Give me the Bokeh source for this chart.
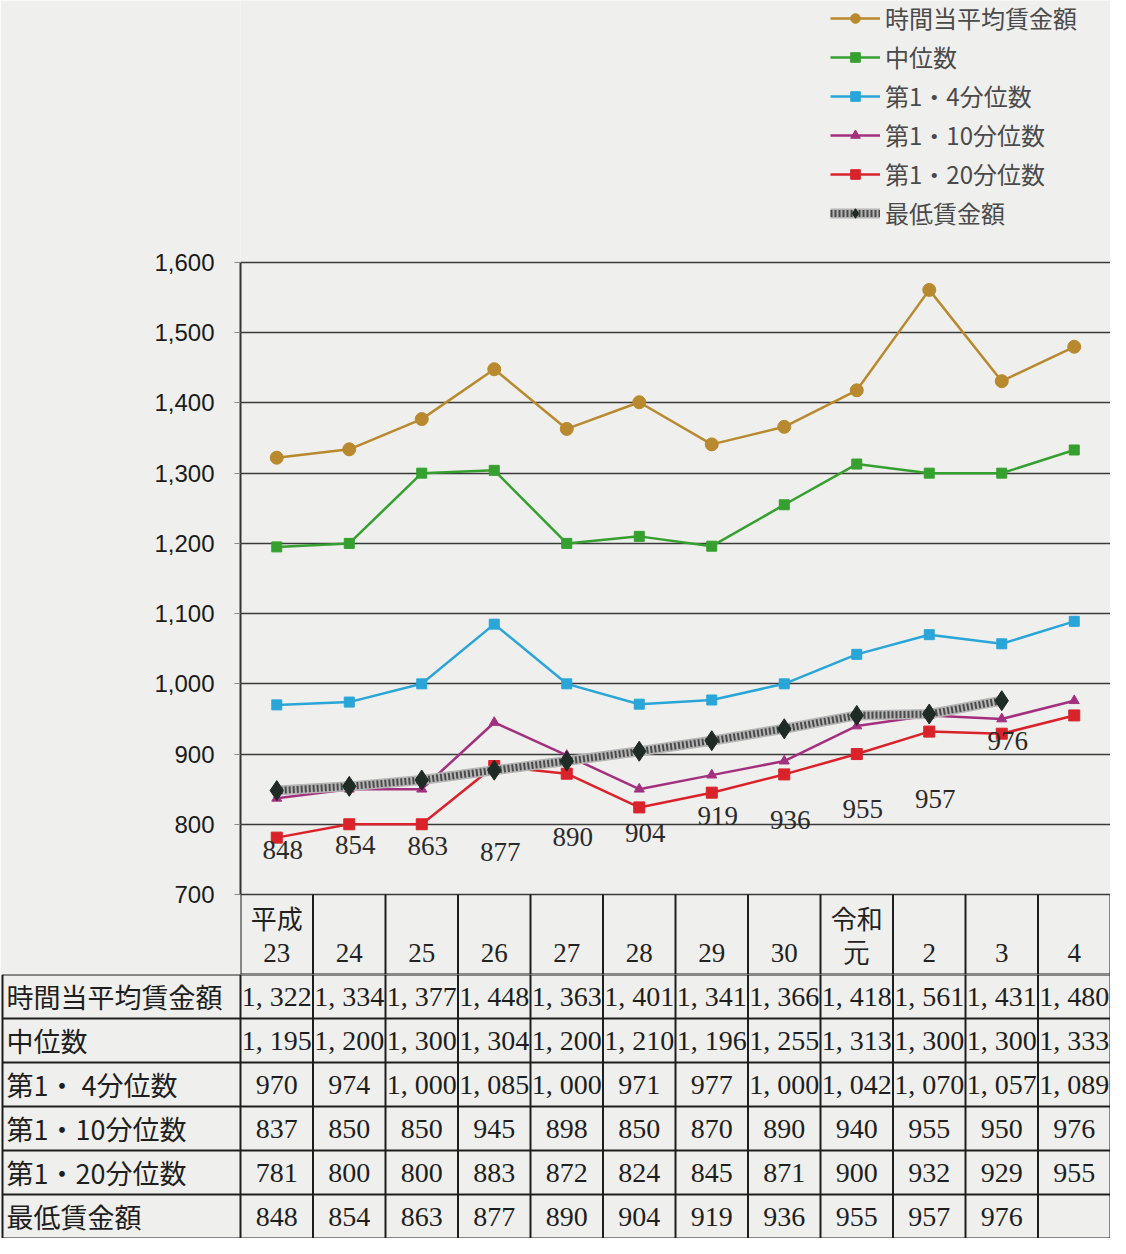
from bokeh.plotting import figure
from bokeh.models import Range1d, Legend, LegendItem, ColumnDataSource, NumeralTickFormatter
from bokeh.layouts import column
from bokeh.core.properties import value
from bokeh.embed import file_html
from bokeh.resources import INLINE

# ---------------- data ----------------
year_top = ["平成", "", "", "", "", "", "", "", "令和", "", "", ""]
year_bottom = ["23", "24", "25", "26", "27", "28", "29", "30", "元", "2", "3", "4"]

names = ["時間当平均賃金額", "中位数", "第1・4分位数", "第1・10分位数", "第1・20分位数", "最低賃金額"]
table_names = ["時間当平均賃金額", "中位数", "第1・ 4分位数", "第1・10分位数", "第1・20分位数", "最低賃金額"]

avg_wage = [1322, 1334, 1377, 1448, 1363, 1401, 1341, 1366, 1418, 1561, 1431, 1480]
median = [1195, 1200, 1300, 1304, 1200, 1210, 1196, 1255, 1313, 1300, 1300, 1333]
q1_4 = [970, 974, 1000, 1085, 1000, 971, 977, 1000, 1042, 1070, 1057, 1089]
q1_10 = [837, 850, 850, 945, 898, 850, 870, 890, 940, 955, 950, 976]
q1_20 = [781, 800, 800, 883, 872, 824, 845, 871, 900, 932, 929, 955]
min_wage = [848, 854, 863, 877, 890, 904, 919, 936, 955, 957, 976]

y_ticks = [700, 800, 900, 1000, 1100, 1200, 1300, 1400, 1500, 1600]

# ---------------- styles ----------------
BG = "#efefed"
LINE = "#1e1e1e"
colors = ["#b8892e", "#35a02f", "#2aa5d8", "#a3307e", "#d9222a"]
markers = ["circle", "square", "square", "triangle", "square"]
msizes = [13, 10, 10, 10, 11]
label_dy = [59, 59, 66, 82, 76, 82, 75, 91, 94, 85, 40]  # pixel offsets of min-wage labels
JP = "Noto Sans CJK JP"
SERIF = "Liberation Serif"

n = len(year_bottom)
xs = list(range(n))

# layout constants (pixels)
W = 1110
LEFT = 240          # axis position from figure left
TOP_1600 = 262      # pixel row of the 1,600 line
PLOT_H = 632        # pixels between 1,600 and 700
HEAD = 80           # header row height (drawn below the 700 line in the chart figure)
H1 = TOP_1600 + PLOT_H + HEAD
H2 = 1238 - H1
n_rows = len(table_names)

ymin, ymax = y_ticks[0], y_ticks[-1]
scale = PLOT_H / (ymax - ymin)
y_hi = ymax + TOP_1600 / scale
y_lo = ymin - HEAD / scale

# ---------------- chart ----------------
p = figure(width=W, height=H1, x_range=Range1d(-0.5, n - 0.5),
           y_range=Range1d(y_lo, y_hi), x_axis_type=None,
           output_backend="svg", toolbar_location=None,
           min_border_left=LEFT, min_border_right=0, min_border_top=0,
           min_border_bottom=0, background_fill_color=BG, border_fill_color=BG,
           outline_line_color=None)
p.frame_align = False

p.yaxis.ticker = y_ticks
p.yaxis.bounds = (ymin, ymax)
p.yaxis.formatter = NumeralTickFormatter(format="0,0")
p.yaxis.major_label_text_font = "Liberation Sans"
p.yaxis.major_label_text_font_size = "24px"
p.yaxis.major_label_text_color = "#1a1a1a"
p.yaxis.major_label_standoff = 20
p.yaxis.axis_line_color = "#333333"
p.yaxis.axis_line_width = 2
p.yaxis.major_tick_line_color = "#888888"
p.yaxis.major_tick_out = 6
p.yaxis.major_tick_in = 0
p.yaxis.minor_tick_line_color = None
p.ygrid.grid_line_color = "#3a3a3a"
p.ygrid.grid_line_width = 1.6
p.xgrid.grid_line_color = None

# header row of the table (below the 700 line)
hv = [-0.5 + k for k in range(n + 1)]
p.segment(x0=hv, y0=[y_lo] * len(hv), x1=hv, y1=[ymin] * len(hv),
          line_color=LINE, line_width=2)
p.segment(x0=[-0.5], y0=[y_lo], x1=[n - 0.5], y1=[y_lo], line_color=LINE, line_width=2)
p.text(x=xs, y=[ymin - 23 / scale] * n, text=year_top, text_font=value(JP),
       text_font_size="26px", text_color="#222222", text_align="center",
       text_baseline="middle")
p.text(x=xs, y=[ymin - 58 / scale] * n, text=year_bottom, text_font=value(SERIF),
       text_font_size="27px", text_color="#222222", text_align="center",
       text_baseline="middle")

series = [avg_wage, median, q1_4, q1_10, q1_20]
items = []
for name, vals, c, m, s in zip(names[:5], series, colors, markers, msizes):
    src = ColumnDataSource(dict(x=xs, y=vals))
    ln = p.line("x", "y", source=src, line_color=c, line_width=2.5)
    sc = p.scatter("x", "y", source=src, marker=m, size=s, fill_color=c, line_color=c)
    items.append(LegendItem(label=name, renderers=[ln, sc]))

msrc = ColumnDataSource(dict(x=xs[:len(min_wage)], y=min_wage,
                             lab=[str(v) for v in min_wage], dy=label_dy))
l1 = p.line("x", "y", source=msrc, line_color="#b5b5b5", line_width=10)
l2 = p.line("x", "y", source=msrc, line_color="#4a4a4a", line_width=7, line_dash="2 2")
d = p.scatter("x", "y", source=msrc, marker="diamond", size=20,
              fill_color="#1f2b25", line_color="#1f2b25")
items.append(LegendItem(label=names[5], renderers=[l1, l2, d]))

p.text("x", "y", text="lab", source=msrc, x_offset=6, y_offset="dy",
       text_font=value(SERIF), text_font_size="27px", text_color="#2a2a2a",
       text_align="center", text_baseline="middle")

legend = Legend(items=items, location=(590, H1 - 230), orientation="vertical",
                label_text_font=JP, label_text_font_size="24px",
                label_text_color="#4a4a4a", glyph_width=50, glyph_height=24,
                label_height=24, spacing=4, padding=0, margin=0,
                background_fill_alpha=0, border_line_color=None)
p.add_layout(legend)

# ---------------- table body ----------------
col_w = (W - LEFT) / n
left = -0.5 - LEFT / col_w
lab_left = left + 2 / col_w

t = figure(width=W, height=H2,
           x_range=Range1d(left, n - 0.5), y_range=Range1d(0, n_rows),
           x_axis_type=None, y_axis_type=None, output_backend="svg",
           toolbar_location=None, min_border=0, background_fill_color=BG,
           border_fill_color=BG, outline_line_color=None)
t.frame_align = False
t.grid.visible = False

hy = list(range(n_rows + 1))
t.segment(x0=[lab_left] * len(hy), y0=hy, x1=[n - 0.5] * len(hy), y1=hy,
          line_color=LINE, line_width=2)
vx = hv + [lab_left]
t.segment(x0=vx, y0=[0] * len(vx), x1=vx, y1=[n_rows] * len(vx),
          line_color=LINE, line_width=2)

# row labels
t.text(x=[lab_left + 4 / col_w] * n_rows, y=[n_rows - r - 0.5 for r in range(n_rows)],
       text=table_names, text_font=value(JP), text_font_size="27px",
       text_color="#1e1e1e", text_align="left", text_baseline="middle")

# values
def fmt(v):
    return f"{v:,}".replace(",", ", ")

all_rows = series + [min_wage]
vx_, vy_, vt_ = [], [], []
for r, vals in enumerate(all_rows):
    for i, v in enumerate(vals):
        vx_.append(i)
        vy_.append(n_rows - r - 0.5)
        vt_.append(fmt(v))
t.text(x=vx_, y=vy_, text=vt_, text_font=value(SERIF), text_font_size="28px",
       text_color="#1e1e1e", text_align="center", text_baseline="middle")

layout = column(p, t, spacing=0)
open("out.html", "w").write(file_html(layout, INLINE))
